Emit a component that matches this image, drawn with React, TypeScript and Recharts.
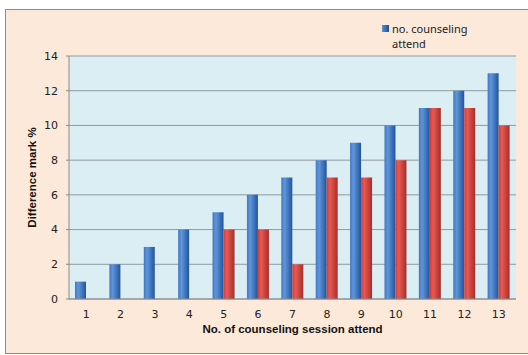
import { BarChart, Bar, XAxis, YAxis, CartesianGrid, Legend, Label } from "recharts";

const sessions = [1, 2, 3, 4, 5, 6, 7, 8, 9, 10, 11, 12, 13];
const attendValues = [1, 2, 3, 4, 5, 6, 7, 8, 9, 10, 11, 12, 13];
const markValues = [0, 0, 0, 0, 4, 4, 2, 7, 7, 8, 11, 11, 10];
const yTicks = [0, 2, 4, 6, 8, 10, 12, 14];

const data = sessions.map((s, i) => ({
  session: s,
  attend: attendValues[i],
  mark: markValues[i],
}));

// tick marks sit between the categories, not under them
const boundaryTicks = [sessions[0] - 0.5, ...sessions.map((s) => s + 0.5)];

const renderLegend = () => (
  <div style={{ display: "flex", alignItems: "flex-start", fontFamily: "'Noto Sans', sans-serif", fontSize: 11, color: "#222", lineHeight: "15px" }}>
    <span
      style={{
        display: "inline-block",
        width: 7,
        height: 7,
        marginTop: 4,
        marginRight: 3,
        background: "linear-gradient(90deg, #5b8fd6, #1f4e8f)",
      }}
    />
    <span style={{ width: 90 }}>no. counseling attend</span>
  </div>
);

const App = () => {
  return (
    <div style={{ position: "absolute", left: 0, top: 0, width: 528, height: 355, background: "#fff", overflow: "hidden" }}>
      <div
        style={{
          position: "absolute",
          left: 5,
          top: 9,
          width: 540,
          height: 343,
          background: "#FDE9D9",
          border: "1px solid #8c8c8c",
        }}
      />
      <div style={{ position: "absolute", left: 0, top: 0 }}>
        <BarChart
          width={528}
          height={355}
          data={data}
          margin={{ top: 56, right: 12, left: 5, bottom: 26 }}
          barGap={0}
          barCategoryGap={6}
        >
          <defs>
            <linearGradient id="blueBar" x1="0" y1="0" x2="1" y2="0">
              <stop offset="0%" stopColor="#4178c4" />
              <stop offset="30%" stopColor="#5f95dc" />
              <stop offset="100%" stopColor="#22549a" />
            </linearGradient>
            <linearGradient id="redBar" x1="0" y1="0" x2="1" y2="0">
              <stop offset="0%" stopColor="#cf403b" />
              <stop offset="30%" stopColor="#ec5751" />
              <stop offset="100%" stopColor="#a0302c" />
            </linearGradient>
          </defs>
          <CartesianGrid xAxisId="b" vertical={false} stroke="#8f9aa0" fill="#DBEEF4" />
          <XAxis
            xAxisId="a"
            type="number"
            domain={[boundaryTicks[0], boundaryTicks[boundaryTicks.length - 1]]}
            ticks={boundaryTicks}
            interval={0}
            tick={false}
            axisLine={{ stroke: "#8c8c8c" }}
            tickLine={{ stroke: "#7a7a7a", strokeWidth: 1 }}
            tickSize={5}
            height={5}
          />
          <XAxis
            xAxisId="b"
            dataKey="session"
            tickLine={false}
            axisLine={false}
            height={25}
            tick={{ fill: "#222", fontSize: 11, fontFamily: "'DejaVu Sans', sans-serif" }}
            tickMargin={0}
          >
            <Label
              value="No. of counseling session attend"
              position="insideBottom"
              offset={-4}
              style={{ fill: "#111", fontSize: 11.5, fontWeight: "bold", fontFamily: "'Liberation Sans', sans-serif" }}
            />
          </XAxis>
          <YAxis
            domain={[0, 14]}
            ticks={yTicks}
            width={64}
            axisLine={{ stroke: "#8c8c8c" }}
            tickLine={{ stroke: "#8c8c8c" }}
            tickSize={3}
            tickMargin={8}
            tick={{ fill: "#222", fontSize: 11, fontFamily: "'DejaVu Sans', sans-serif" }}
          >
            <Label
              value="Difference mark %"
              angle={-90}
              position="insideLeft"
              offset={27}
              style={{ textAnchor: "middle", fill: "#111", fontSize: 11.5, fontWeight: "bold", fontFamily: "'Liberation Sans', sans-serif" }}
            />
          </YAxis>
          <Legend
            layout="vertical"
            align="center"
            verticalAlign="middle"
            content={renderLegend}
            wrapperStyle={{ left: 382, top: 21, width: 120 }}
          />
          <Bar xAxisId="b" dataKey="attend" fill="url(#blueBar)" isAnimationActive={false} />
          <Bar xAxisId="b" dataKey="mark" fill="url(#redBar)" isAnimationActive={false} legendType="none" />
        </BarChart>
      </div>
    </div>
  );
};

export default App;
